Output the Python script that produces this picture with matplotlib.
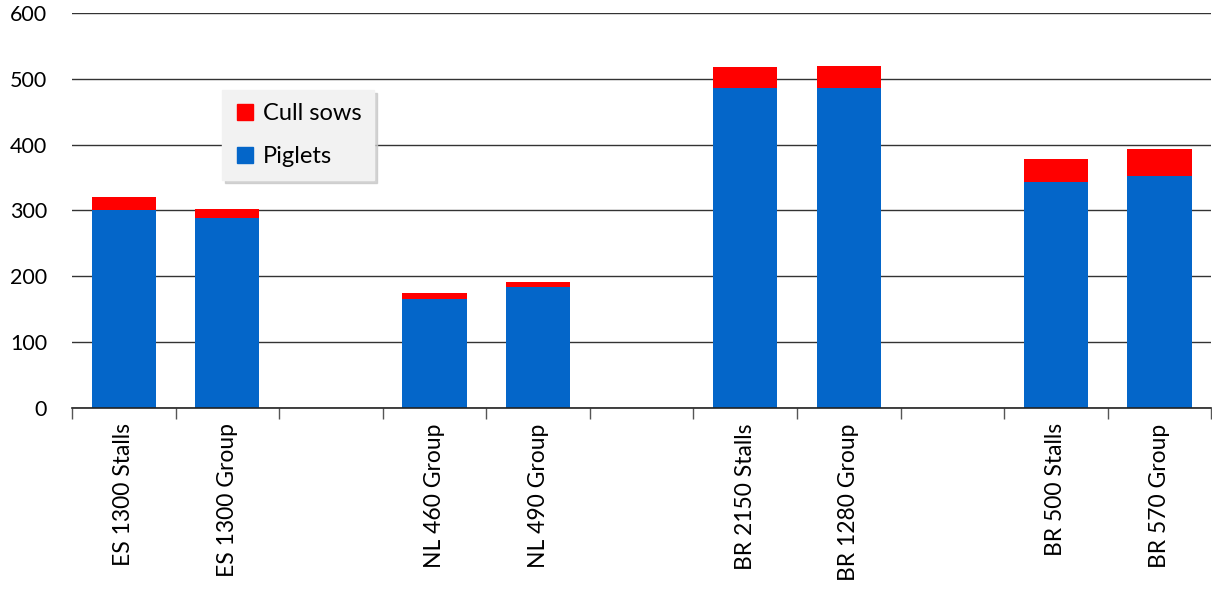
import matplotlib
matplotlib.use('Agg')
import matplotlib.pyplot as plt
from matplotlib.lines import Line2D
import numpy as np

# categories, with empty slots between the country groups
labels = ['ES 1300 Stalls', 'ES 1300 Group', '', 'NL 460 Group', 'NL 490 Group', '',
          'BR 2150 Stalls', 'BR 1280 Group', '', 'BR 500 Stalls', 'BR 570 Group']
piglets = [300, 289, 0, 166, 184, 0, 486, 486, 0, 344, 353]
cull_sows = [21, 13, 0, 8, 8, 0, 32, 33, 0, 34, 41]

blue = '#0466C9'
red = '#FF0000'

plt.rcParams['font.family'] = ['Lato', 'DejaVu Sans']

fig = plt.figure(figsize=(12.12, 5.89), dpi=100)
ax = fig.add_axes([0.0594, 0.3073, 0.94, 0.6707])

x = np.arange(len(labels))
ax.bar(x, piglets, 0.62, color=blue, zorder=3)
ax.bar(x, cull_sows, 0.62, bottom=piglets, color=red, zorder=3)

ax.set_ylim(0, 600)
ax.set_yticks(range(0, 601, 100))
ax.set_xlim(-0.5, len(labels) - 0.5)
ax.grid(axis='y', color='#333333', linewidth=1.0, zorder=0)

ax.set_xticks(x)
ax.set_xticklabels(labels, rotation=90, fontsize=16.5)
ax.tick_params(axis='x', which='major', length=0, pad=11)
ax.set_xticks(np.arange(-0.5, len(labels), 1), minor=True)
ax.tick_params(axis='x', which='minor', length=8, width=1, color='#555555', direction='out')
ax.tick_params(axis='y', length=0, labelsize=15.5, pad=18)

for s in ['left', 'right', 'top']:
    ax.spines[s].set_visible(False)
ax.spines['bottom'].set_color('#222222')
ax.spines['bottom'].set_linewidth(1.2)
ax.spines['bottom'].set_zorder(4)

handles = [Line2D([0], [0], marker='s', color='none', markerfacecolor=red, markeredgecolor=red, markersize=12),
           Line2D([0], [0], marker='s', color='none', markerfacecolor=blue, markeredgecolor=blue, markersize=12)]
leg = ax.legend(handles, ['Cull sows', 'Piglets'], loc='upper left', bbox_to_anchor=(0.132, 0.805),
                fontsize=17, frameon=True, fancybox=False, shadow={'color': '#c8c8c8', 'alpha': 0.8},
                handlelength=0.8, handletextpad=0.35, labelspacing=0.95, borderpad=0.55,
                borderaxespad=0)
leg.get_frame().set_facecolor('#F2F2F2')
leg.get_frame().set_edgecolor('#F2F2F2')
leg._legend_box.sep = 8
leg.set_zorder(5)

fig.savefig('out.png', dpi=100)
